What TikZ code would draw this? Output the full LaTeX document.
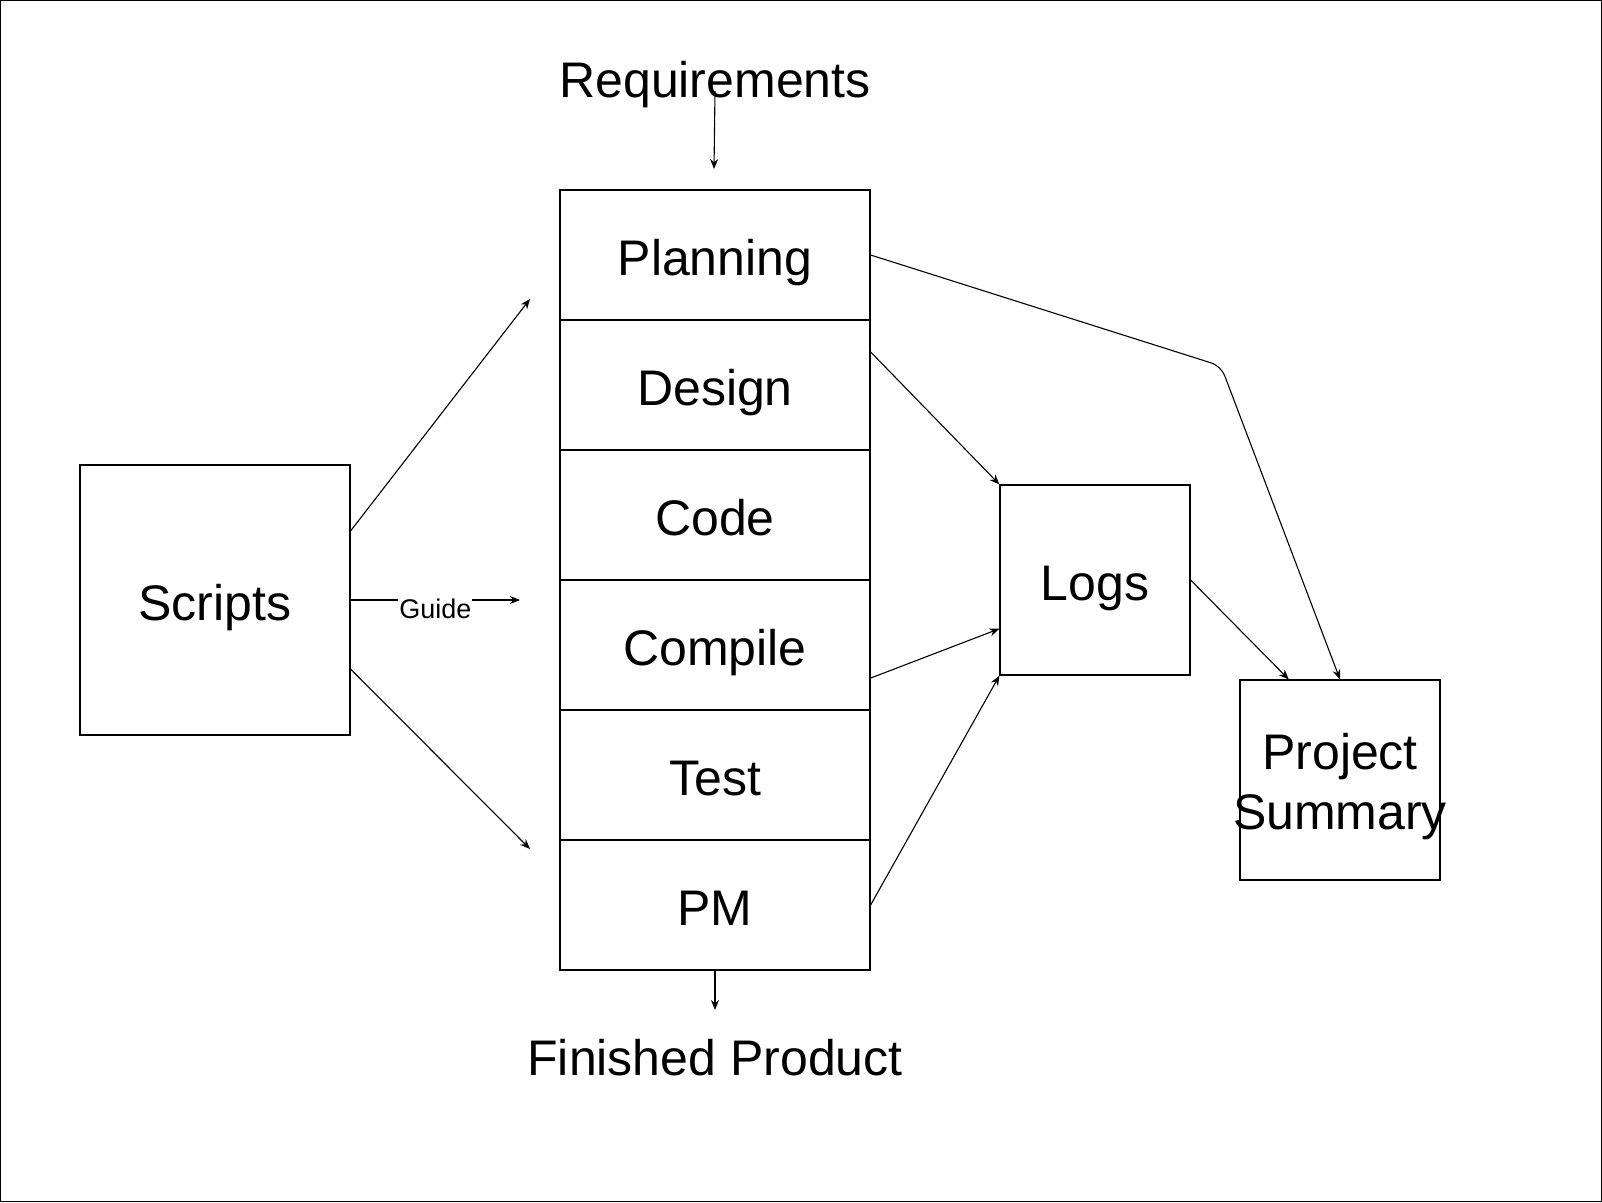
\documentclass[tikz,border=0pt]{standalone}
\usepackage{fontspec}
\setmainfont{Liberation Sans}
\usetikzlibrary{arrows.meta}
\tikzset{line/.style={line width=1.2pt}}
\tikzset{arrow/.style={line width=1.1pt, -{Stealth[length=10pt, width=8pt]}}}
\tikzset{big/.style={font=\fontsize{50}{60}\selectfont}}
\tikzset{title/.style={big, text height=40pt, text depth=0pt}}
\tikzset{box/.style={draw, line width=1.2pt, inner sep=0pt, title}}
\tikzset{stage/.style={box, minimum width=310pt, minimum height=130pt}}
\tikzset{guide/.style={fill=white, inner sep=1pt, font=\fontsize{27}{32}\selectfont}}

\begin{document}
\begin{tikzpicture}[x=1pt, y=-1pt]
\useasboundingbox (0,0) rectangle (1602,1202);
\draw[line] (0.6,0.6) rectangle (1601.4,1201.4);
\def\rowh{130}
\def\top{190}
\node[stage] (plan) at (715,\top+0.5*\rowh) {Planning};
\node[stage] (design) at (715,\top+1.5*\rowh) {Design};
\node[stage] (code) at (715,\top+2.5*\rowh) {Code};
\node[stage] (compile) at (715,\top+3.5*\rowh) {Compile};
\node[stage] (test) at (715,\top+4.5*\rowh) {Test};
\node[stage] (pm) at (715,\top+5.5*\rowh) {PM};
\node[box, minimum width=270pt, minimum height=270pt] (scripts) at (215,600) {Scripts};
\node[box, minimum width=190pt, minimum height=190pt] (logs) at (1095,580) {Logs};
\node[box, minimum width=200pt, minimum height=200pt] (summary) at (1340,780) {};
\node[big, align=center] (summarytext) at (1340,787) {Project\\Summary};
\node[title] (req) at (715,77) {Requirements};
\node[title] (done) at (715,1055) {Finished Product};

\coordinate (reqin) at (714,169);
\coordinate (doneout) at (715,1010);
\coordinate (toplan) at (530,299);
\coordinate (tomid) at (520,600);
\coordinate (topm) at (530,849);
\coordinate (bend) at (1221,366);

\draw[arrow] ([yshift=6pt]req.base) -- (reqin);
\draw[arrow] (pm.south) -- (doneout);
\draw[arrow] (scripts.27) -- (toplan);
\draw[arrow] (scripts.east) -- (tomid) node[guide, midway, yshift=-9pt] {Guide};
\draw[arrow] (scripts.-27) -- (topm);
\draw[arrow, rounded corners=10pt] (plan.east) -- (bend) -- (summary.north);
\draw[arrow] (design.12) -- (logs.north west);
\draw[arrow] (compile.-12) -- (logs.207);
\draw[arrow] (pm.east) -- (logs.south west);
\draw[arrow] (logs.east) -- (summary.117);

\end{tikzpicture}
\end{document}
